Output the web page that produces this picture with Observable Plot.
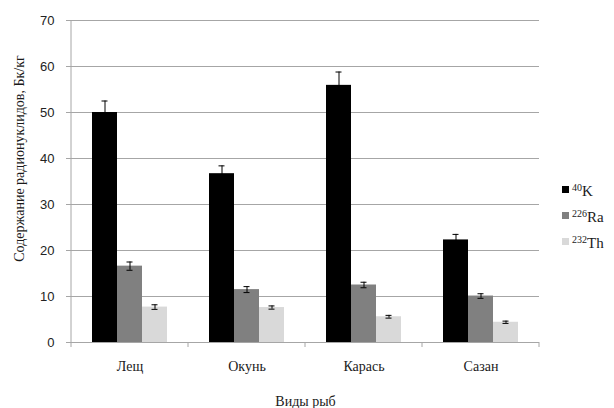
<!DOCTYPE html>
<html>
<head>
<meta charset="utf-8">
<script src="https://cdn.jsdelivr.net/npm/d3@7"></script>
<script src="https://cdn.jsdelivr.net/npm/@observablehq/plot@0.6"></script>
<style>
  body { margin: 0; background: #fff; }
  #wrap { position: relative; width: 614px; height: 408px; overflow: hidden; }
  #legend { position: absolute; left: 562px; top: 178px; font-family: "Liberation Serif", "Times New Roman", serif; font-size: 15px; color: #1a1a1a; }
  .item { height: 26px; display: flex; align-items: center; white-space: nowrap; }
  .sw { width: 7px; height: 7px; margin-right: 3px; margin-top: -3px; }
  sup { font-size: 10px; vertical-align: 5px; line-height: 0; }
</style>
</head>
<body>
<div id="wrap">
  <div id="chart"></div>
  <div id="legend"></div>
</div>
<script>
// ---- data ----
const species = ["Лещ", "Окунь", "Карась", "Сазан"];
const isotopes = ["40K", "226Ra", "232Th"];
const isotopeMass = ["40", "226", "232"];
const isotopeSymbol = ["K", "Ra", "Th"];
const valuesK  = [50.0, 36.7, 55.9, 22.3];
const valuesRa = [16.6, 11.5, 12.5, 10.1];
const valuesTh = [7.7, 7.6, 5.6, 4.4];
const errK  = [2.5, 1.7, 2.9, 1.2];
const errRa = [0.9, 0.65, 0.6, 0.5];
const errTh = [0.5, 0.35, 0.3, 0.25];
const yTicks = [0, 10, 20, 30, 40, 50, 60, 70];
const colors = ["#000000", "#808080", "#d9d9d9"];
const yLabel = "Содержание радионуклидов, Бк/кг";
const xLabel = "Виды рыб";

const seriesValues = [valuesK, valuesRa, valuesTh];
const seriesErr = [errK, errRa, errTh];
const rows = [];
species.forEach((s, i) => isotopes.forEach((iso, j) => {
  rows.push({species: s, isotope: iso, value: seriesValues[j][i], err: seriesErr[j][i]});
}));

const AXIS = "#a6a6a6";
const SERIF = "'Liberation Serif', 'Times New Roman', serif";
const SANS = "'Liberation Sans', Arial, sans-serif";

const boundaryMark = Plot.frame({
  facet: "super",
  stroke: "none",
  render(index, scales, values, dim) {
    const g = d3.create("svg:g").attr("stroke", AXIS).attr("fill", "none");
    const y = scales.y;
    const y0 = y(0), yTop = y(yTicks[yTicks.length - 1]);
    let edges;
    if (scales.fx) {
      const fx = scales.fx;
      edges = species.map(c => fx(c));
      edges.push(fx(species[species.length - 1]) + fx.bandwidth());
    } else {
      const l = dim.marginLeft, r = dim.width - dim.marginRight;
      edges = species.map((c, i) => l + (r - l) * i / species.length);
      edges.push(r);
    }
    for (const e of edges) {
      g.append("line").attr("x1", e).attr("x2", e).attr("y1", y0).attr("y2", y0 + 5);
    }
    g.append("line").attr("x1", edges[0]).attr("x2", edges[0]).attr("y1", yTop).attr("y2", y0);
    return g.node();
  }
});

const plot = Plot.plot({
  width: 614,
  height: 408,
  marginLeft: 70,
  marginRight: 74,
  marginTop: 20,
  marginBottom: 66,
  style: {background: "transparent"},
  fx: {domain: species, padding: 0, label: null},
  x: {domain: isotopes, paddingInner: 0, paddingOuter: 0.76, axis: null},
  y: {domain: [0, 70], axis: null},
  color: {domain: isotopes, range: colors},
  marks: [
    Plot.gridY(yTicks, {stroke: AXIS, strokeOpacity: 1}),
    Plot.ruleY([0], {stroke: AXIS}),
    Plot.barY(rows, {fx: "species", x: "isotope", y: "value", fill: "isotope"}),
    Plot.ruleX(rows, {fx: "species", x: "isotope", y1: d => d.value - d.err, y2: d => d.value + d.err, stroke: "#000", strokeWidth: 1}),
    Plot.tickY(rows, {fx: "species", x: "isotope", y: d => d.value - d.err, stroke: "#000", insetLeft: 9.5, insetRight: 9.5}),
    Plot.tickY(rows, {fx: "species", x: "isotope", y: d => d.value + d.err, stroke: "#000", insetLeft: 9.5, insetRight: 9.5}),
    Plot.axisY({ticks: yTicks, tickSize: 5, tickPadding: 12, stroke: AXIS, fill: "#222", fontSize: 13, fontFamily: SANS, label: null, tickFormat: d => String(d)}),
    Plot.axisFx({anchor: "bottom", tickSize: 0, tickPadding: 19, fontSize: 14, fontFamily: SERIF, fill: "#1a1a1a", letterSpacing: 1.2, label: xLabel, labelAnchor: "center", labelOffset: 63, labelArrow: "none"}),
    Plot.text([yLabel], {facet: "super", text: d => d, frameAnchor: "left", textAnchor: "middle", rotate: -90, dx: -52, dy: -23, fontSize: 14, fontFamily: SERIF, fill: "#1a1a1a", letterSpacing: 2.5}),
    boundaryMark
  ]
});
document.getElementById("chart").append(plot);

// legend
const legend = document.getElementById("legend");
isotopes.forEach((iso, j) => {
  const item = document.createElement("div");
  item.className = "item";
  const sw = document.createElement("span");
  sw.className = "sw";
  sw.style.background = colors[j];
  const lab = document.createElement("span");
  lab.innerHTML = "<sup>" + isotopeMass[j] + "</sup>" + isotopeSymbol[j];
  item.append(sw, lab);
  legend.append(item);
});
</script>
</body>
</html>
